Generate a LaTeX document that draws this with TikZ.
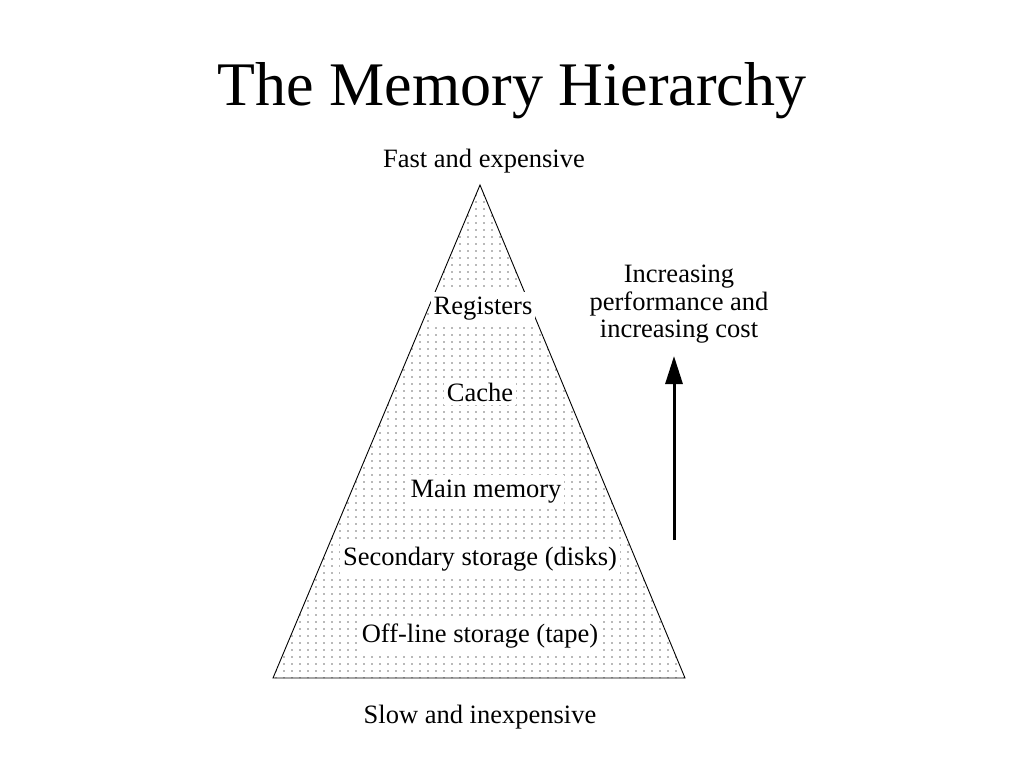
\documentclass[tikz,border=0pt]{standalone}
\usepackage{fontspec}
\setmainfont{Liberation Serif}
\usetikzlibrary{arrows.meta}
\begin{document}
\begin{tikzpicture}[x=1pt,y=-1pt,
  lbl/.style={font=\fontsize{26.5}{30}\selectfont, anchor=base, inner sep=0pt},
  layer/.style={lbl, fill=white, inner xsep=3pt, inner ysep=4pt},
  dotc/.style={fill=black!55}]
\useasboundingbox (0,0) rectangle (1024,768);
\fill[white] (0,0) rectangle (1024,768);
\coordinate (apex) at (480,185);
\coordinate (bl) at (273,678);
\coordinate (br) at (685,678);
\begin{scope}
  \clip (apex) -- (bl) -- (br) -- cycle;
  \foreach \i in {0,...,52} {
    \foreach \j in {0,...,70} {
      \fill[dotc] (276+\i*8,188+\j*7) circle (0.85);
    }
  }
\end{scope}
\draw[line width=0.9pt, line join=miter] (apex) -- (bl) -- (br) -- cycle;
\node[lbl, font=\fontsize{62}{70}\selectfont] (title) at (512,105) {The Memory Hierarchy};
\node[lbl] (fast) at (484,167) {Fast and expensive};
\node[lbl] (slow) at (480,723) {Slow and inexpensive};
\node[layer] (reg) at (483,314) {Registers};
\node[layer] (cache) at (480,401) {Cache};
\node[layer] (main) at (486,497) {Main memory};
\node[layer] (sec) at (480,565) {Secondary storage (disks)};
\node[layer] (off) at (480,642) {Off-line storage (tape)};
\node[lbl] (inc1) at (679,282) {Increasing};
\node[lbl] (inc2) at (679,310) {performance and};
\node[lbl] (inc3) at (679,337) {increasing cost};
\coordinate (arrlow) at (674,540);
\coordinate (arrtop) at (674,356);
\draw[line width=3pt, -{Triangle[length=28pt,width=17pt]}] (arrlow) -- (arrtop);
\end{tikzpicture}
\end{document}
